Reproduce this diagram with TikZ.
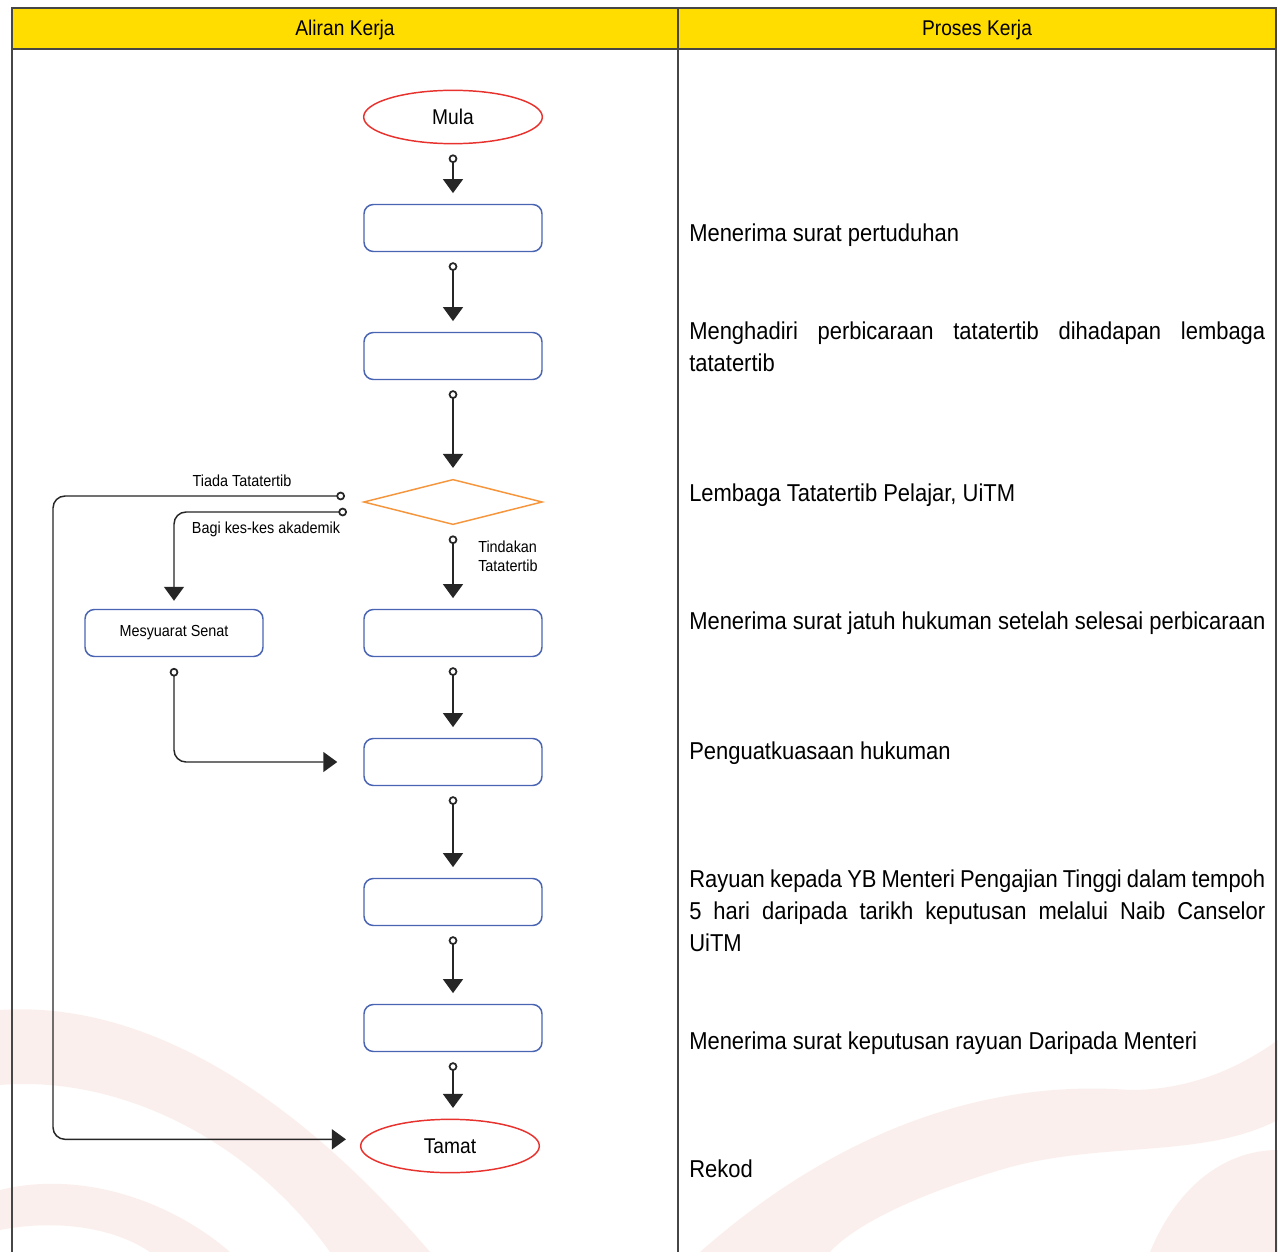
\documentclass[tikz,border=0pt]{standalone}
\usepackage{fontspec}
\setmainfont{Liberation Sans}[FakeStretch=0.9]
\usetikzlibrary{shapes.geometric,arrows.meta}
\definecolor{boxblue}{RGB}{74,100,180}
\definecolor{termred}{RGB}{232,50,46}
\definecolor{decorange}{RGB}{245,150,60}
\definecolor{headyellow}{RGB}{255,221,0}
\definecolor{tableline}{RGB}{70,70,70}
\definecolor{ribbonc}{RGB}{236,178,165}
\begin{document}
\begin{tikzpicture}[x=0.75pt,y=-0.75pt,
 box/.style={draw=boxblue,line width=1.1pt,rounded corners=7pt,fill=white,minimum width=133.5pt,minimum height=35.25pt,inner sep=0pt,font=\fontsize{12}{14}\selectfont},
 term/.style={ellipse,draw=termred,line width=1.1pt,fill=white,minimum width=134pt,minimum height=40pt,inner sep=0pt,font=\fontsize{16}{18}\selectfont},
 decis/.style={diamond,draw=decorange,line width=1.1pt,fill=white,minimum width=134pt,minimum height=34pt,inner sep=0pt},
 conn/.style={line width=1.1pt,draw=black!85,{Circle[open,length=6.5pt,width=6.5pt,line width=1.3pt]}-{Triangle[length=10.5pt,width=15pt]},shorten <=7.5pt,shorten >=8pt},
 lbl/.style={font=\fontsize{12}{14}\selectfont,inner sep=0pt},
 proc/.style={font=\fontsize{18.3}{24}\selectfont,anchor=base west,inner sep=0pt},
 head/.style={font=\fontsize{16}{18}\selectfont,inner sep=0pt,anchor=base},
 ribbon/.style={fill=ribbonc,opacity=0.2}
]
\useasboundingbox (0,0) rectangle (1278,1252);
\fill[white] (0,0) rectangle (1278,1252);
% background ribbons
\fill[ribbon] (0,1010) .. controls (150,1000) and (300,1100) .. (430,1252) -- (330,1252) .. controls (250,1140) and (120,1075) .. (0,1085) -- cycle;
\fill[ribbon] (0,1190) .. controls (80,1170) and (170,1200) .. (230,1252) -- (150,1252) .. controls (110,1225) and (50,1220) .. (0,1230) -- cycle;
\fill[ribbon] (700,1252) .. controls (850,1120) and (1000,1080) .. (1130,1090) .. controls (1200,1090) and (1250,1060) .. (1278,1040) -- (1278,1120) .. controls (1200,1160) and (1100,1140) .. (1000,1170) .. controls (900,1200) and (850,1230) .. (830,1252) -- cycle;
\fill[ribbon] (1150,1252) .. controls (1180,1180) and (1230,1150) .. (1278,1150) -- (1278,1252) -- cycle;
% table
\fill[headyellow] (12,8) rectangle (1276,49);
\draw[tableline,line width=1.2pt] (12,1252) -- (12,8) -- (1276,8) -- (1276,1252);
\draw[tableline,line width=1.2pt] (12,49) -- (1276,49);
\draw[tableline,line width=1.2pt] (678,8) -- (678,1252);
\node[head] (h1) at (345,36) {Aliran Kerja};
\node[head] (h2) at (977,36) {Proses Kerja};
% flow nodes
\node[term] (mula) at (453,117) {Mula};
\node[box] (b1) at (453,228) {};
\node[box] (b2) at (453,356) {};
\node[decis] (dec) at (453,502) {};
\node[box] (b3) at (453,633) {};
\node[box] (b4) at (453,762) {};
\node[box] (b5) at (453,902) {};
\node[box] (b6) at (453,1028) {};
\node[term] (tamat) at (450,1146) {Tamat};
\node[box] (senat) at (174,633) {Mesyuarat Senat};
% connectors
\draw[conn] (mula) -- (b1);
\draw[conn] (b1) -- (b2);
\draw[conn] (b2) -- (dec);
\draw[conn] (dec) -- (b3);
\draw[conn] (b3) -- (b4);
\draw[conn] (b4) -- (b5);
\draw[conn] (b5) -- (b6);
\draw[conn] (b6) -- (b6 |- tamat.north);
\coordinate (dT) at (345,496);
\coordinate (dB) at (347,512);
\draw[conn,rounded corners=9pt,shorten <=0pt,shorten >=10.5pt] (dT) -| (53,760) |- ([yshift=5pt]tamat.west);
\draw[conn,rounded corners=9pt,shorten <=0pt,shorten >=6pt] (dB) -| (senat.north);
\draw[conn,rounded corners=9pt,shorten <=8pt,shorten >=19.5pt] (senat.south) |- (b4.west);
% labels
\node[lbl,anchor=base] (lT) at (242,486) {Tiada Tatatertib};
\node[lbl,anchor=base] (lB) at (266,533) {Bagi kes-kes akademik};
\node[lbl,anchor=base west,align=left] (lD) at (478,571) {Tindakan\\Tatatertib};
% process texts
\node[proc] (p1) at (689,241) {Menerima surat pertuduhan};
\node[proc] (p2a) at (689,339) {\makebox[432pt][s]{Menghadiri perbicaraan tatatertib dihadapan lembaga}};
\node[proc] (p2b) at (689,371) {tatatertib};
\node[proc] (p3) at (689,501) {Lembaga Tatatertib Pelajar, UiTM};
\node[proc] (p4) at (689,629) {Menerima surat jatuh hukuman setelah selesai perbicaraan};
\node[proc] (p5) at (689,759) {Penguatkuasaan hukuman};
\node[proc] (p6a) at (689,887) {\makebox[432pt][s]{Rayuan kepada YB Menteri Pengajian Tinggi dalam tempoh}};
\node[proc] (p6b) at (689,919) {\makebox[432pt][s]{5 hari daripada tarikh keputusan melalui Naib Canselor}};
\node[proc] (p6c) at (689,951) {UiTM};
\node[proc] (p7) at (689,1049) {Menerima surat keputusan rayuan Daripada Menteri};
\node[proc] (p8) at (689,1177) {Rekod};
\end{tikzpicture}
\end{document}
